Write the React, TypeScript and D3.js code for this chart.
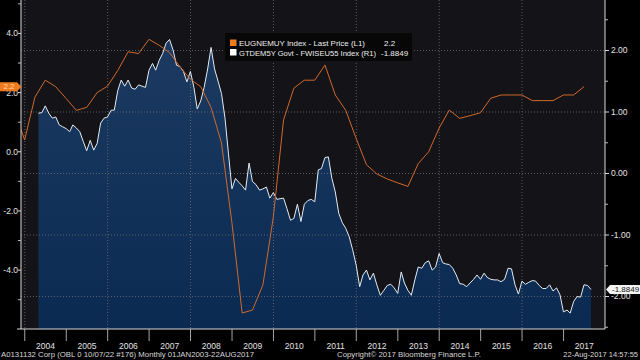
import React from 'react';
import * as d3 from 'd3';

// ---------- data ----------
// EUGNEMUY Index (Euro area GDP YoY), quarterly, quarter-end dates (left axis L1)
const gdpDates = [
  '2003-09-30','2003-12-31','2004-03-31','2004-06-30','2004-09-30','2004-12-31',
  '2005-03-31','2005-06-30','2005-09-30','2005-12-31','2006-03-31','2006-06-30',
  '2006-09-30','2006-12-31','2007-03-31','2007-06-30','2007-09-30','2007-12-31',
  '2008-03-31','2008-06-30','2008-09-30','2008-12-31','2009-03-31','2009-06-30',
  '2009-09-30','2009-12-31','2010-03-31','2010-06-30','2010-09-30','2010-12-31',
  '2011-03-31','2011-06-30','2011-09-30','2011-12-31','2012-03-31','2012-06-30',
  '2012-09-30','2012-12-31','2013-03-31','2013-06-30','2013-09-30','2013-12-31',
  '2014-03-31','2014-06-30','2014-09-30','2014-12-31','2015-03-31','2015-06-30',
  '2015-09-30','2015-12-31','2016-03-31','2016-06-30','2016-09-30','2016-12-31',
  '2017-03-31','2017-06-30'
];
const gdpValues = [
  1.4, 0.4, 1.85, 2.42, 2.2, 1.8,
  1.4, 1.5, 2.0, 2.22, 2.75, 3.38,
  3.32, 3.8, 3.6, 3.35, 2.87, 2.45,
  2.2, 1.5, 0.3, -2.4, -5.45, -5.35,
  -4.5, -2.2, 1.08, 2.15, 2.42, 2.42,
  2.93, 1.92, 1.4, 0.45, -0.44, -0.75,
  -0.92, -1.05, -1.17, -0.4, 0.0, 0.8,
  1.41, 1.13, 1.22, 1.32, 1.81, 1.92,
  1.92, 1.92, 1.73, 1.73, 1.73, 1.92,
  1.92, 2.2
];

// GTDEM5Y Govt - FWISEU55 Index, monthly from Apr 2004 to Aug 2017 (right axis R1)
const spreadStartMonth = '2004-04';
const spreadValues = [
  0.98, 0.99, 1.10, 0.98, 0.90, 0.92, 0.79, 0.76, 0.73, 0.68, 0.79, 0.74,
  0.68, 0.52, 0.37, 0.54, 0.38, 0.49, 0.82, 0.90, 0.92, 1.03, 1.03, 1.35,
  1.52, 1.42, 1.52, 1.39, 1.37, 1.44, 1.42, 1.40, 1.68, 1.79, 1.68, 1.84,
  1.95, 2.12, 2.18, 2.01, 1.76, 1.74, 1.66, 1.49, 1.66, 1.40, 1.05, 1.18,
  1.40, 1.70, 2.05, 1.70, 1.50, 1.30, 0.90, 0.33, -0.25, -0.08, -0.14, -0.20,
  -0.27, 0.17, -0.13, -0.18, -0.27, -0.25, -0.22, -0.40, -0.31, -0.42, -0.41, -0.40,
  -0.57, -0.76, -0.73, -0.50, -0.78, -0.50, -0.44, -0.42, -0.46, 0.06, 0.08, 0.26,
  0.27, -0.08, -0.30, -0.65, -0.80, -0.89, -1.03, -1.24, -1.49, -1.84, -1.65, -1.57,
  -1.73, -1.62, -1.81, -1.98, -1.90, -1.82, -1.80, -1.86, -1.95, -1.60, -1.78, -1.90,
  -1.98, -1.73, -1.52, -1.54, -1.45, -1.42, -1.57, -1.52, -1.30, -1.45, -1.47, -1.48,
  -1.54, -1.65, -1.79, -1.80, -1.84, -1.78, -1.72, -1.65, -1.72, -1.62, -1.69, -1.72,
  -1.73, -1.73, -1.76, -1.72, -1.54, -1.55, -1.81, -1.96, -1.75, -1.80, -1.77, -1.74,
  -1.75, -1.82, -1.87, -1.87, -1.81, -1.91, -1.86, -1.97, -2.25, -2.22, -2.27, -2.08,
  -2.00, -2.01, -1.81, -1.82, -1.8849
];

const leftTicks = [4, 2, 0, -2, -4];
const leftMinorTicks = [5, 3, 1, -1, -3, -5];
const rightTicks = [2, 1, 0, -1, -2];
const rightMinorTicks = [2.5, 1.5, 0.5, -0.5, -1.5, -2.5];
const years = [2004, 2005, 2006, 2007, 2008, 2009, 2010, 2011, 2012, 2013, 2014, 2015, 2016, 2017];
const gridYears = [2004, 2006, 2008, 2010, 2012, 2014, 2016];

const legendItems = [
  { name: 'EUGNEMUY Index - Last Price (L1)', last: '2.2', color: '#f07a1e' },
  { name: 'GTDEM5Y Govt - FWISEU55 Index (R1)', last: '-1.8849', color: '#ffffff' },
];
const footerLeft = 'A0131132 Corp (OBL 0 10/07/22 #176)  Monthly 01JAN2003-22AUG2017';
const footerMid = 'Copyright\u00A9 2017 Bloomberg Finance L.P.';
const footerRight = '22-Aug-2017 14:57:55';

// ---------- layout ----------
const W = 640, H = 360;
const L = 21, R = 605, T = 0, B = 329;
const FONT = '"Liberation Sans", Arial, sans-serif';
const legendNameWidths = [126, 137];
const legendValueX = [384, 381];

export default function App() {
  const x = d3.scaleTime().domain([new Date(2003, 10, 29), new Date(2018, 0, 1)]).range([L, R]);
  const yL = d3.scaleLinear().domain([-5.99, 5.13]).range([B, T]);
  const yR = d3.scaleLinear().domain([-2.528, 2.821]).range([B, T]);

  const parse = d3.timeParse('%Y-%m-%d');
  const gdp = gdpDates.map((d, i) => ({ date: parse(d) as Date, v: gdpValues[i] }));
  const [sy, sm] = spreadStartMonth.split('-').map(Number);
  const spread = spreadValues.map((v, i) => ({ date: new Date(sy, sm + i, 0), v }));

  const area = d3.area<{ date: Date; v: number }>()
    .x(d => x(d.date)).y0(B).y1(d => yR(d.v));
  const lineR = d3.line<{ date: Date; v: number }>().x(d => x(d.date)).y(d => yR(d.v));
  const lineL = d3.line<{ date: Date; v: number }>().x(d => x(d.date)).y(d => yL(d.v));

  const lastG = gdp[gdp.length - 1];
  const lastS = spread[spread.length - 1];
  const tagLY = yL(lastG.v);
  const tagRY = yR(lastS.v);

  return (
    <svg width={W} height={H} style={{ position: 'absolute', left: 0, top: 0, display: 'block' }}
      fontFamily={FONT}>
      <defs>
        <clipPath id="plot"><rect x={L} y={T} width={R - L} height={B - T} /></clipPath>
        <linearGradient id="fillG" x1="0" y1={T} x2="0" y2={B} gradientUnits="userSpaceOnUse">
          <stop offset="0" stopColor="#1f3d63" />
          <stop offset="1" stopColor="#0a2a52" />
        </linearGradient>
      </defs>
      <rect x={0} y={0} width={W} height={H} fill="#000" />
      <rect x={L} y={T} width={R - L} height={B - T} fill="#131318" />

      <g clipPath="url(#plot)">
        <path d={area(spread) || ''} fill="url(#fillG)" />
        {rightTicks.map(t => (
          <line key={'hg' + t} x1={L} x2={R} y1={yR(t)} y2={yR(t)} stroke="#707070"
            strokeWidth={0.8} strokeDasharray="1,2" />
        ))}
        {gridYears.map(yv => (
          <line key={'vg' + yv} x1={x(new Date(yv, 0, 1))} x2={x(new Date(yv, 0, 1))} y1={T} y2={B}
            stroke="#707070" strokeWidth={0.8} strokeDasharray="1,2" />
        ))}
        <path d={lineR(spread) || ''} fill="none" stroke="#e4ebf3" strokeWidth={1} />
        <path d={lineL(gdp) || ''} fill="none" stroke="#d2692a" strokeWidth={1} />
      </g>

      {/* axes lines */}
      <line x1={L} x2={L} y1={T} y2={B} stroke="#d8d8d8" strokeWidth={1} />
      <line x1={R} x2={R} y1={T} y2={B} stroke="#d8d8d8" strokeWidth={1} />
      <line x1={L - 4} x2={R} y1={B} y2={B} stroke="#d8d8d8" strokeWidth={1} />

      {/* left axis */}
      {leftTicks.map(t => (
        <g key={'lt' + t}>
          <line x1={L - 3} x2={L} y1={yL(t)} y2={yL(t)} stroke="#d8d8d8" />
          <text x={L - 3} y={yL(t)} dy="0.35em" textAnchor="end" fontSize={8.5} fill="#e2e2e2">
            {d3.format('.1f')(t).replace('\u2212', '-')}
          </text>
        </g>
      ))}
      {leftMinorTicks.map(t => (
        <line key={'lm' + t} x1={L - 3} x2={L} y1={yL(t)} y2={yL(t)} stroke="#bbb" />
      ))}

      {/* right axis */}
      {rightTicks.map(t => (
        <g key={'rt' + t}>
          <line x1={R} x2={R + 4} y1={yR(t)} y2={yR(t)} stroke="#d8d8d8" />
          <text x={R + 6} y={yR(t)} dy="0.35em" textAnchor="start" fontSize={8.5} fill="#e2e2e2">
            {d3.format('.2f')(t).replace('\u2212', '-')}
          </text>
        </g>
      ))}
      {rightMinorTicks.map(t => (
        <line key={'rm' + t} x1={R} x2={R + 3} y1={yR(t)} y2={yR(t)} stroke="#bbb" />
      ))}

      {/* bottom axis */}
      {years.map(yv => {
        const x0 = x(new Date(yv, 0, 1));
        const x1 = Math.min(R, x(new Date(yv + 1, 0, 1)));
        const cx = (Math.max(L, x0) + x1) / 2;
        return (
          <g key={'yr' + yv}>
            <line x1={x0} x2={x0} y1={B} y2={B + 12} stroke="#cfcfcf" strokeWidth={0.8} />
            <text x={cx} y={B + 20} textAnchor="middle" fontSize={8.5} fill="#e2e2e2">{yv}</text>
          </g>
        );
      })}

      {/* legend */}
      <rect x={225} y={33} width={187} height={28} fill="#070707" />
      {legendItems.map((it, i) => (
        <g key={it.name}>
          <rect x={230} y={39.5 + i * 9.5} width={6.5} height={6.5} fill={it.color} />
          <text x={239} y={46 + i * 9.5} fontSize={8} fill="#eeeeee" textLength={legendNameWidths[i]}
            lengthAdjust="spacingAndGlyphs">{it.name}</text>
          <text x={legendValueX[i]} y={46 + i * 9.5} fontSize={8} fill="#eeeeee">{it.last}</text>
        </g>
      ))}

      {/* last value tags */}
      <path d={`M0,${tagLY - 4.5} H17 L21.5,${tagLY} L17,${tagLY + 4.5} H0 Z`} fill="#f07a1e" />
      <text x={9} y={tagLY} dy="0.35em" textAnchor="middle" fontSize={8} fill="#ffd9b3">{legendItems[0].last}</text>
      <path d={`M${R + 1},${tagRY} L${R + 5},${tagRY - 4.5} H640 V${tagRY + 4.5} H${R + 5} Z`} fill="#f4f4f4" />
      <text x={R + 7} y={tagRY} dy="0.35em" fontSize={8} fill="#111">{legendItems[1].last}</text>

      {/* footer */}
      <text x={1} y={357} fontSize={7.5} fill="#d6d6d6" textLength={253} lengthAdjust="spacingAndGlyphs">{footerLeft}</text>
      <text x={337} y={357} fontSize={7.5} fill="#d6d6d6" textLength={144} lengthAdjust="spacingAndGlyphs">{footerMid}</text>
      <text x={638} y={357} fontSize={7.5} fill="#d6d6d6" textAnchor="end">{footerRight}</text>
    </svg>
  );
}
